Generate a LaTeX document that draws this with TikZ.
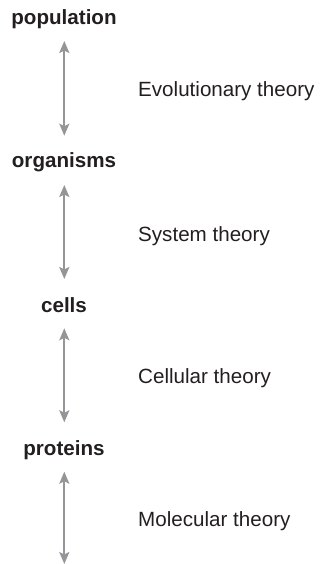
\documentclass[tikz,border=0pt]{standalone}
\usepackage{fontspec}
\setmainfont{Liberation Sans}
\usetikzlibrary{arrows.meta}
\definecolor{arrowgray}{HTML}{939598}
\definecolor{textdark}{HTML}{231F20}
\begin{document}
\begin{tikzpicture}[x=1pt,y=-1pt,
  level/.style={font=\fontsize{20.6}{24}\selectfont\bfseries, text=textdark, anchor=base, inner sep=0pt},
  theory/.style={font=\fontsize{20.6}{24}\selectfont, text=textdark, anchor=base west, inner sep=0pt},
  link/.style={draw=arrowgray, line width=2pt, {Stealth[length=12pt,width=10pt,inset=2.5pt]}-{Stealth[length=12pt,width=10pt,inset=2.5pt]}}]
\useasboundingbox (0,0) rectangle (320,564);
\node[level] (pop) at (64,24.3) {population};
\node[level] (org) at (64,167.7) {organisms};
\node[level] (cel) at (64,312.3) {cells};
\node[level] (pro) at (64,455) {proteins};
\node[theory] (evo) at (138,96.7) {Evolutionary theory};
\node[theory] (sys) at (138,241) {System theory};
\node[theory] (cell) at (138,383.5) {Cellular theory};
\node[theory] (mol) at (138,526.7) {Molecular theory};
\coordinate (a1t) at (64.3,41);
\coordinate (a1b) at (64.3,135.7);
\coordinate (a2t) at (64.3,185);
\coordinate (a2b) at (64.3,279);
\coordinate (a3t) at (64.3,328.3);
\coordinate (a3b) at (64.3,422.3);
\coordinate (a4t) at (64.3,471.7);
\coordinate (a4b) at (64.3,564);
\draw[link] (a1t) -- (a1b);
\draw[link] (a2t) -- (a2b);
\draw[link] (a3t) -- (a3b);
\draw[link] (a4t) -- (a4b);
\end{tikzpicture}
\end{document}
